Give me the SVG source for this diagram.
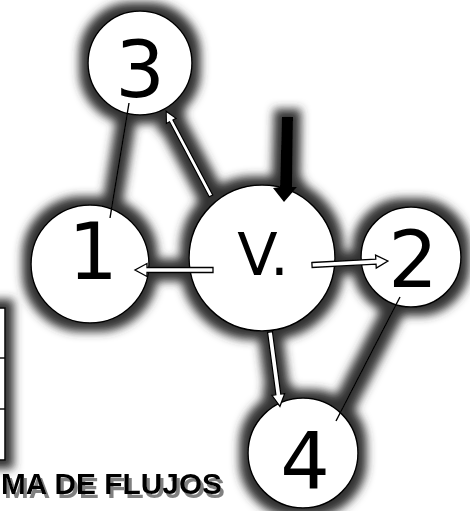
<svg xmlns="http://www.w3.org/2000/svg" width="470" height="511" viewBox="0 0 470 511">
<defs>
<filter id="glow" x="-50" y="-50" width="600" height="620" filterUnits="userSpaceOnUse">
<feMorphology in="SourceAlpha" operator="dilate" radius="8" result="d"/>
<feGaussianBlur in="d" stdDeviation="5" result="b"/>
<feFlood flood-color="#333"/>
<feComposite in2="b" operator="in" result="s"/>
<feMerge><feMergeNode in="s"/><feMergeNode in="SourceGraphic"/></feMerge>
</filter>
<filter id="tshadow" x="-20" y="440" width="280" height="80" filterUnits="userSpaceOnUse">
<feOffset in="SourceAlpha" dx="3" dy="4" result="o"/>
<feFlood flood-color="#808080"/>
<feComposite in2="o" operator="in" result="s"/>
<feMerge><feMergeNode in="s"/><feMergeNode in="SourceGraphic"/></feMerge>
</filter>
<style>
.node{fill:#fff;stroke:#000;stroke-width:1.5}
.lbl{font-family:"DejaVu Sans",sans-serif;fill:#000;text-anchor:middle}
.line{stroke:#000;stroke-width:1.4;fill:none}
.hollow{fill:#fff;stroke:#000;stroke-width:1.3;stroke-linejoin:miter}
.title{font-family:"Liberation Sans",Arial,sans-serif;font-weight:bold;font-size:30px;fill:#000}
</style>
</defs>
<rect width="470" height="511" fill="#fff"/>
<g filter="url(#glow)">
<g id="table">
<rect x="-10" y="308" width="15" height="152" class="node"/>
<line x1="-10" y1="358" x2="5" y2="358" class="line"/>
<line x1="-10" y1="409" x2="5" y2="409" class="line"/>
</g>
<g id="node3"><circle cx="140" cy="63" r="52" class="node"/><text x="140" y="97" class="lbl" font-size="78">3</text></g>
<g id="node1"><circle cx="90" cy="264" r="59" class="node"/><text x="93" y="279" class="lbl" font-size="78">1</text></g>
<g id="nodeV"><circle cx="262" cy="258" r="73" class="node"/><text x="263" y="275" class="lbl" font-size="59">V.</text></g>
<g id="node2"><circle cx="411" cy="257" r="50" class="node"/><text x="413" y="287" class="lbl" font-size="78">2</text></g>
<g id="node4"><circle cx="303" cy="453" r="55" class="node"/><text x="305" y="489" class="lbl" font-size="78">4</text></g>
<g id="connectors">
<line x1="129" y1="103" x2="110" y2="218" class="line"/>
<line x1="400" y1="297" x2="336" y2="421" class="line"/>
<path class="hollow" transform="translate(213,270) rotate(180)" d="M0,-2.5 H66 V-6.5 L78,0 L66,6.5 V2.5 H0 Z"/>
<path class="hollow" transform="translate(312,265) rotate(-3)" d="M0,-2.5 H64 V-6.5 L76,0 L64,6.5 V2.5 H0 Z"/>
<path class="hollow" transform="translate(211,196) rotate(-117.9)" d="M0,-2 H85 V-5.5 L96,0 L85,5.5 V2 H0 Z"/>
<path class="hollow" transform="translate(270,332) rotate(82.4)" d="M0,-2.5 H63 V-6.5 L75,0 L63,6.5 V2.5 H0 Z"/>
<path fill="#000" d="M282,117 L293,117 L292,187 L297,187 L284,202 L273,188 L280,187 Z"/>
</g>
</g>
<g id="title" filter="url(#tshadow)">
<text x="1" y="494" class="title" textLength="221" lengthAdjust="spacingAndGlyphs">MA DE FLUJOS</text>
</g>
</svg>
